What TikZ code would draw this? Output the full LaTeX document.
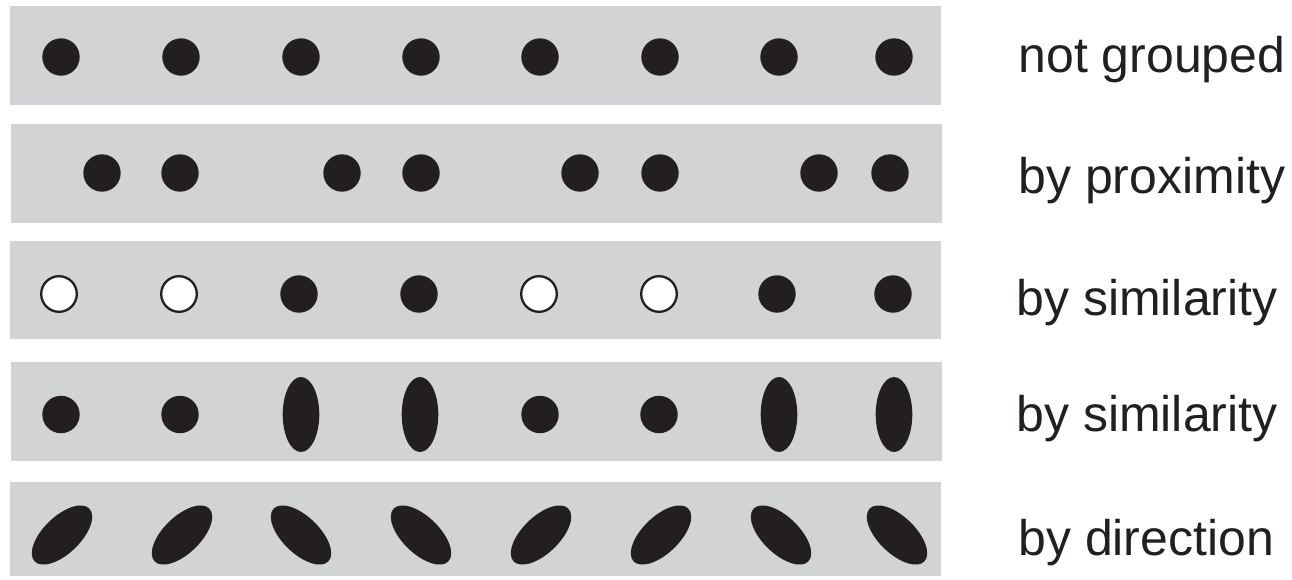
\documentclass[tikz,border=0pt]{standalone}
\usepackage{fontspec}
\setmainfont{Liberation Sans}
\usetikzlibrary{shapes.geometric}
\definecolor{bandgray}{HTML}{D1D3D4}
\definecolor{ink}{HTML}{231F20}
\tikzset{
  band/.style={fill=bandgray, draw=none},
  dot/.style={circle, fill=ink, draw=none, inner sep=0pt, minimum size=18.7pt},
  opendot/.style={circle, fill=white, draw=ink, line width=1.15pt, inner sep=0pt, minimum size=17.8pt},
  tall/.style={ellipse, fill=ink, draw=none, inner sep=0pt, minimum width=18.3pt, minimum height=37.5pt},
  slant/.style={ellipse, fill=ink, draw=none, inner sep=0pt, minimum width=38pt, minimum height=18.5pt, rotate=#1},
  label/.style={anchor=base west, inner sep=0pt, text=ink, font=\fontsize{25pt}{30pt}\selectfont}
}
\begin{document}
\begin{tikzpicture}[x=0.5pt, y=-0.5pt]
\useasboundingbox (0,0) rectangle (1292,579);
% bands
\fill[band] (10,6) rectangle (941,105);
\fill[band] (11,124) rectangle (942,223);
\fill[band] (10,241) rectangle (941,339);
\fill[band] (11,362) rectangle (942,461);
\fill[band] (10,482) rectangle (941,576);
% row 1
\foreach \x [count=\i] in {61,181,301,421,540,660,779,894}
  \node[dot] (a\i) at (\x,57) {};
% row 2
\foreach \x [count=\i] in {102,180,342,421,580,660,819,890}
  \node[dot] (b\i) at (\x,173) {};
% row 3
\node[opendot] (c1) at (59,294) {};
\node[opendot] (c2) at (179,294) {};
\node[dot] (c3) at (299,294) {};
\node[dot] (c4) at (419,294) {};
\node[opendot] (c5) at (539,294) {};
\node[opendot] (c6) at (659,294) {};
\node[dot] (c7) at (777,294) {};
\node[dot] (c8) at (893,294) {};
% row 4
\node[dot] (d1) at (61,414.5) {};
\node[dot] (d2) at (180,414.5) {};
\node[tall] (d3) at (301,414.5) {};
\node[tall] (d4) at (420,414.5) {};
\node[dot] (d5) at (540,414.5) {};
\node[dot] (d6) at (659,414.5) {};
\node[tall] (d7) at (779,414.5) {};
\node[tall] (d8) at (894,414.5) {};
% row 5
\node[slant=44] (e1) at (62,535) {};
\node[slant=44] (e2) at (182,535) {};
\node[slant=-44] (e3) at (301,535) {};
\node[slant=-44] (e4) at (421,535) {};
\node[slant=44] (e5) at (541,535) {};
\node[slant=44] (e6) at (661,535) {};
\node[slant=-44] (e7) at (781,535) {};
\node[slant=-44] (e8) at (897,535) {};
% labels
\node[label] (l1) at (1018,72) {not grouped};
\node[label] (l2) at (1018,193) {by proximity};
\node[label] (l3) at (1016,315) {by similarity};
\node[label] (l4) at (1016,431) {by similarity};
\node[label] (l5) at (1018,555) {by direction};
\end{tikzpicture}
\end{document}
